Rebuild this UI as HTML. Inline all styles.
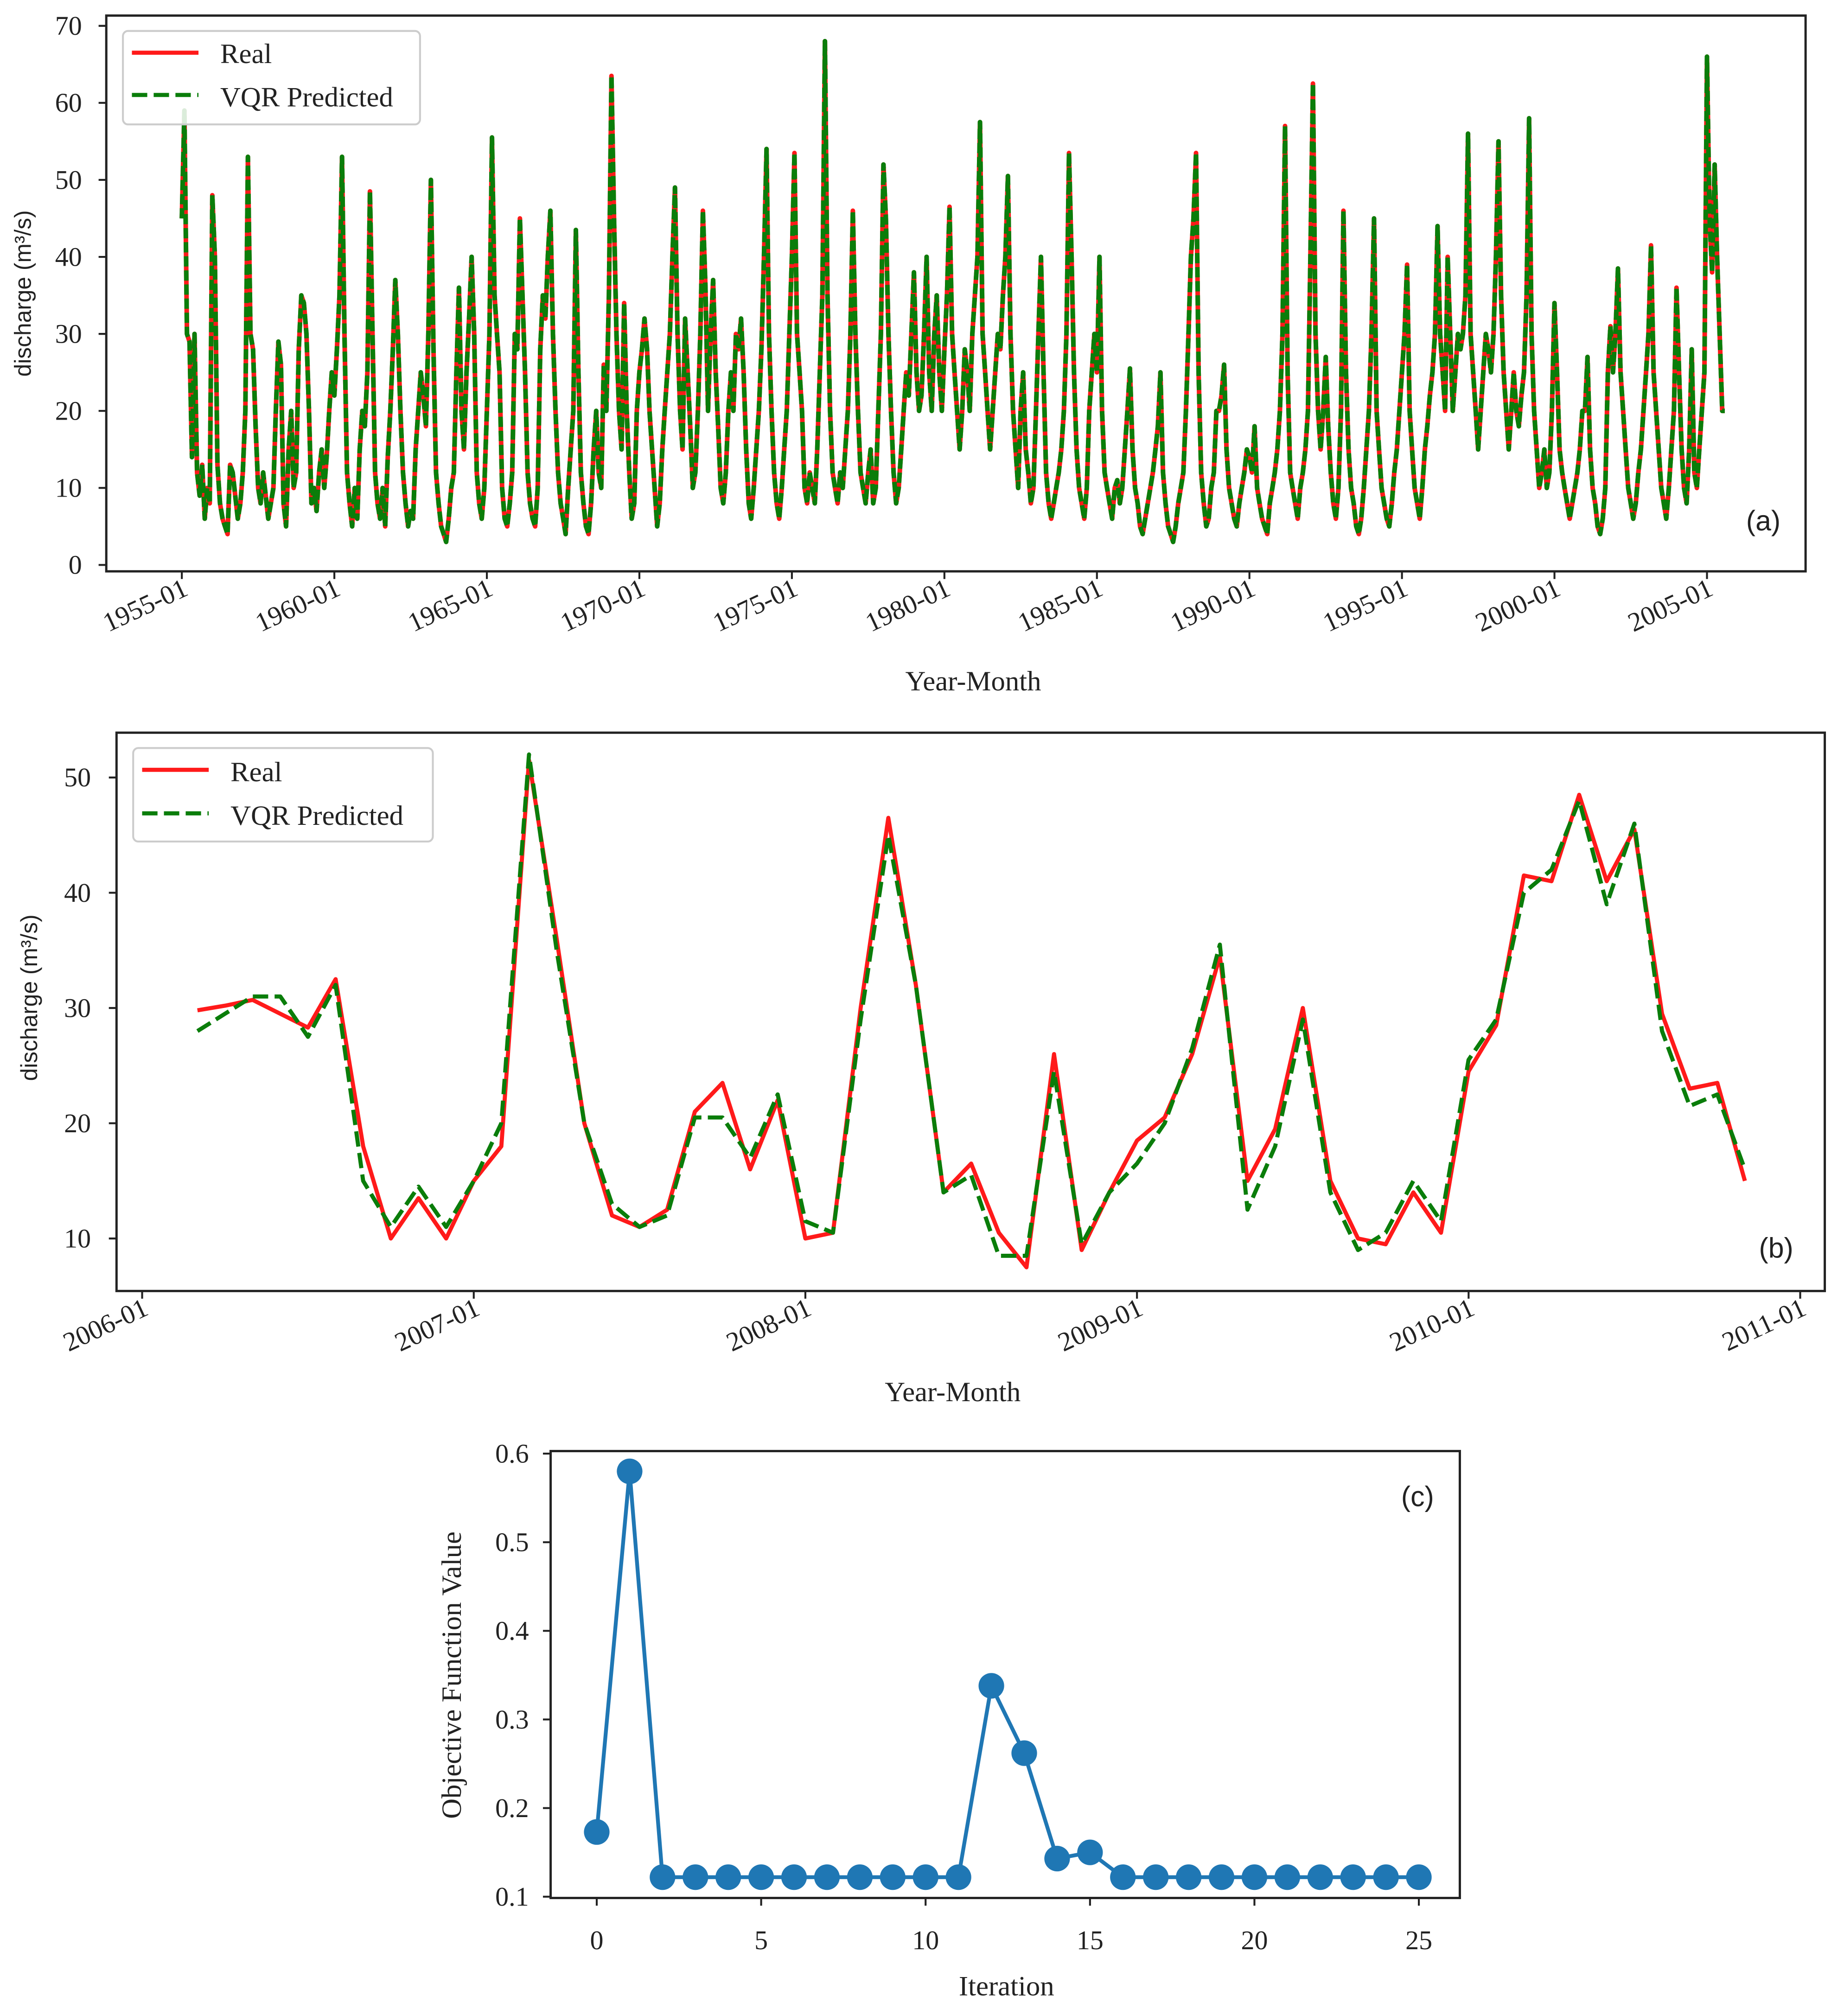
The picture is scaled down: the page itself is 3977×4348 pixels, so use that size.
<!DOCTYPE html>
<html><head><meta charset="utf-8"><style>
html,body{margin:0;padding:0;background:#fff;}
svg{display:block;}
text{font-family:"Liberation Serif",serif;fill:#222;}
.sans{font-family:"Liberation Sans",sans-serif;}
</style></head><body>
<svg id="fig" xmlns="http://www.w3.org/2000/svg" width="3977" height="4348" viewBox="0 0 1440 1574"></svg>
<script>
// ---- Panel (a) data: monthly discharge from 1955-01 ----
const startYearA = 1955;
const realA = [
45,59,30,29,14,30,12,9,13,6,10,8,
48,40,13,8,6,5,4,13,12,9,6,8,
12,20,53,30,28,18,10,8,12,9,6,8,
10,20,29,26,8,5,15,20,10,12,28,35,
34,30,20,8,10,7,12,15,10,14,20,25,
22,28,35,53,30,12,8,5,10,6,15,20,
18,25,48.5,30,12,8,6,10,5,14,20,28,
37,30,20,12,8,5,7,6,15,20,25,22,
18,30,50,28,12,8,5,4,3,6,10,12,
25,36,20,15,25,32,40,30,12,8,6,10,
20,30,55.5,35,30,25,10,6,5,8,12,30,
28,45,35,25,12,8,6,5,10,28,35,32,
40,46,30,20,12,8,6,4,10,15,20,43.5,
25,12,8,5,4,8,15,20,12,10,26,20,
35,63.5,45,30,20,15,34,20,12,6,8,20,
25,28,32,28,20,15,10,5,8,15,20,25,
30,40,49,30,20,15,32,25,18,10,12,20,
30,46,36,20,30,37,25,18,10,8,12,20,
25,20,30,28,32,25,15,8,6,10,15,20,
28,40,54,30,20,12,8,6,10,15,20,30,
40,53.5,30,25,20,10,8,12,10,8,15,25,
35,68,35,20,12,10,8,12,10,15,20,30,
46,30,20,12,10,8,12,15,8,10,20,30,
52,45,30,20,12,8,10,15,20,25,22,30,
38,25,20,22,30,40,25,20,30,35,25,20,
28,35,46.5,30,25,20,15,20,28,25,20,30,
35,40,57.5,30,25,20,15,20,25,30,28,35,
40,50.5,30,20,15,10,20,25,15,12,8,10,
20,30,40,25,12,8,6,8,10,12,15,20,
30,53.5,40,25,15,10,8,6,10,20,25,30,
25,40,20,12,10,8,6,10,11,8,10,15,
20,25.5,15,10,8,5,4,6,8,10,12,15,
18,25,12,8,5,4,3,5,8,10,12,20,
30,40,45,53.5,25,12,8,5,6,10,12,20,
20,22,26,15,10,8,6,5,8,10,12,15,
14,12,18,10,8,6,5,4,8,10,12,15,
20,30,57,25,12,10,8,6,10,12,15,20,
40,62.5,30,20,15,20,27,18,12,8,6,10,
20,46,25,15,10,8,5,4,6,10,15,20,
30,45,20,15,10,8,6,5,8,12,15,20,
25,30,39,20,15,10,8,6,10,15,18,22,
25,30,44,30,25,20,40,30,20,25,30,28,
30,35,56,30,25,20,15,20,25,30,28,25,
30,40,55,35,25,20,15,20,25,20,18,22,
25,35,58,30,20,15,10,12,15,10,12,20,
34,25,15,12,10,8,6,8,10,12,15,20,
20,27,15,10,8,5,4,6,10,25,31,25,
30,38.5,25,20,15,10,8,6,8,12,15,20,
25,30,41.5,25,20,15,10,8,6,10,15,20,
36,25,15,10,8,15,28,12,10,15,20,25,
66,45,38,52,40,30,20,20];
const predA = realA;
const ticksA = ["1955-01","1960-01","1965-01","1970-01","1975-01","1980-01","1985-01","1990-01","1995-01","2000-01","2005-01"];
const yTicksA = [0,10,20,30,40,50,60,70];

// ---- Panel (b) data: monthly from 2006-03 ----
const realB = [29.8,30.2,30.7,29.5,28.3,32.5,18,10,13.5,10,15,18,51.5,36,20,12,11,12.5,21,23.5,16,22,10,10.5,30,46.5,32,14,16.5,10.5,7.5,26,9,14,18.5,20.5,26,34.5,15,19.5,30,15,10,9.5,14,10.5,24.5,28.5,41.5,41,48.5,41,45.5,29.5,23,23.5,15];
const predB = [28,29.5,31,31,27.5,32,15,11,14.5,11,15,20,52,35,20,13,11,12,20.5,20.5,17,22.5,11.5,10.5,29,45,32,14,15.5,8.5,8.5,24.5,9.5,14,16.5,20,26.5,35.5,12.5,18,29,14,9,10.5,15,11.5,25.5,29,40,42,48,39,46,28,21.5,22.5,16];
const ticksB = ["2006-01","2007-01","2008-01","2009-01","2010-01","2011-01"];
const yTicksB = [10,20,30,40,50];

// ---- Panel (c) data ----
const iterC = [0,1,2,3,4,5,6,7,8,9,10,11,12,13,14,15,16,17,18,19,20,21,22,23,24,25];
const objC = [0.173,0.58,0.122,0.122,0.122,0.122,0.122,0.122,0.122,0.122,0.122,0.122,0.338,0.262,0.143,0.15,0.122,0.122,0.122,0.122,0.122,0.122,0.122,0.122,0.122,0.122];
const xTicksC = [0,5,10,15,20,25];
const yTicksC = [0.1,0.2,0.3,0.4,0.5,0.6];

const NS="http://www.w3.org/2000/svg";
const fig=document.getElementById('fig');
function mk(tag,attrs,parent){const e=document.createElementNS(NS,tag);for(const k in attrs)e.setAttribute(k,attrs[k]);(parent||fig).appendChild(e);return e;}
function txt(s,attrs,parent){const e=mk('text',attrs,parent);e.textContent=s;return e;}

// ===== Panel (a) =====
const gA=mk('g',{});


const xA=t=>142+(t-1955)*23.82;
const yA=v=>441-v*6.014;
mk('rect',{x:83,y:12,width:1327,height:434,fill:'none',stroke:'#222','stroke-width':1.8},gA);
yTicksA.forEach(v=>{mk('line',{x1:77,x2:83,y1:yA(v),y2:yA(v),stroke:'#222','stroke-width':1.5},gA);
 const t=txt(String(v),{x:64,y:yA(v)+7,'text-anchor':'end','font-size':21},gA);
 });
ticksA.forEach((s,i)=>{const x=xA(1955+5*i);mk('line',{x1:x,x2:x,y1:446,y2:452,stroke:'#222','stroke-width':1.5},gA);
 const t=txt(s,{x:x+6,y:464,'text-anchor':'end','font-size':21,transform:`rotate(-25 ${x+6} 464)`},gA);
 });
let t=txt('discharge (m³/s)',{x:24,y:229,'text-anchor':'middle','font-size':18,class:'sans',transform:'rotate(-90 24 229)',fill:'#444'},gA);

t=txt('Year-Month',{x:760,y:539,'text-anchor':'middle','font-size':22},gA);

t=txt('(a)',{x:1377,y:414,'text-anchor':'middle','font-size':22,class:'sans'},gA);

let ptsR=realA.map((v,i)=>xA(startYearA+i/12).toFixed(1)+','+yA(v).toFixed(1)).join(' ');
let ptsP=predA.map((v,i)=>xA(startYearA+i/12).toFixed(1)+','+yA(v).toFixed(1)).join(' ');
let l=mk('polyline',{points:ptsR,fill:'none',stroke:'#ff1a1a','stroke-width':3.6,'stroke-linejoin':'round'},gA);

l=mk('polyline',{points:ptsP,fill:'none',stroke:'#0a7d0a','stroke-width':3.6,'stroke-dasharray':'8 3','stroke-linejoin':'round'},gA);

let lg=mk('g',{},gA);
mk('rect',{x:96,y:24,width:232,height:73,rx:4,fill:'#fff','fill-opacity':0.85,stroke:'#ccc','stroke-width':1.5},lg);
mk('line',{x1:103,x2:155,y1:41,y2:41,stroke:'#ff1a1a','stroke-width':3.2},lg);
mk('line',{x1:103,x2:155,y1:74,y2:74,stroke:'#0a7d0a','stroke-width':3.2,'stroke-dasharray':'12 5'},lg);
txt('Real',{x:172,y:49,'font-size':22},lg);
txt('VQR Predicted',{x:172,y:83,'font-size':22},lg);

// ===== Panel (b) =====
const gB=mk('g',{});


const xB=m=>111+m*21.58; // months since 2006-01
const yB=v=>967-(v-10)*9.0;
mk('rect',{x:91,y:572,width:1334,height:436,fill:'none',stroke:'#222','stroke-width':1.8},gB);
yTicksB.forEach(v=>{mk('line',{x1:85,x2:91,y1:yB(v),y2:yB(v),stroke:'#222','stroke-width':1.5},gB);
 const t=txt(String(v),{x:71,y:yB(v)+7,'text-anchor':'end','font-size':21},gB);
 });
ticksB.forEach((s,i)=>{const x=xB(12*i);mk('line',{x1:x,x2:x,y1:1008,y2:1014,stroke:'#222','stroke-width':1.5},gB);
 const t=txt(s,{x:x+6,y:1026,'text-anchor':'end','font-size':21,transform:`rotate(-25 ${x+6} 1026)`},gB);
 });
t=txt('discharge (m³/s)',{x:29,y:779,'text-anchor':'middle','font-size':18,class:'sans',transform:'rotate(-90 29 779)',fill:'#444'},gB);

t=txt('Year-Month',{x:744,y:1094,'text-anchor':'middle','font-size':22},gB);

t=txt('(b)',{x:1387,y:982,'text-anchor':'middle','font-size':22,class:'sans'},gB);

ptsR=realB.map((v,i)=>xB(2+i).toFixed(1)+','+yB(v).toFixed(1)).join(' ');
ptsP=predB.map((v,i)=>xB(2+i).toFixed(1)+','+yB(v).toFixed(1)).join(' ');
l=mk('polyline',{points:ptsR,fill:'none',stroke:'#ff1a1a','stroke-width':3.2,'stroke-linejoin':'round'},gB);

l=mk('polyline',{points:ptsP,fill:'none',stroke:'#0a7d0a','stroke-width':3.2,'stroke-dasharray':'12 5','stroke-linejoin':'round'},gB);

lg=mk('g',{},gB);
mk('rect',{x:104,y:584,width:234,height:73,rx:4,fill:'#fff','fill-opacity':0.85,stroke:'#ccc','stroke-width':1.5},lg);
mk('line',{x1:111,x2:163,y1:601,y2:601,stroke:'#ff1a1a','stroke-width':3.2},lg);
mk('line',{x1:111,x2:163,y1:635,y2:635,stroke:'#0a7d0a','stroke-width':3.2,'stroke-dasharray':'12 5'},lg);
txt('Real',{x:180,y:610,'font-size':22},lg);
txt('VQR Predicted',{x:180,y:644,'font-size':22},lg);

// ===== Panel (c) =====
const gC=mk('g',{});


const xC=v=>466+v*25.68;
const yC=v=>1481-(v-0.1)*692;
mk('rect',{x:430,y:1133,width:710,height:349,fill:'none',stroke:'#222','stroke-width':1.8},gC);
yTicksC.forEach(v=>{mk('line',{x1:424,x2:430,y1:yC(v),y2:yC(v),stroke:'#222','stroke-width':1.5},gC);
 const t=txt(v.toFixed(1),{x:413,y:yC(v)+7,'text-anchor':'end','font-size':21},gC);
 });
xTicksC.forEach(v=>{mk('line',{x1:xC(v),x2:xC(v),y1:1482,y2:1488,stroke:'#222','stroke-width':1.5},gC);
 const t=txt(String(v),{x:xC(v),y:1522,'text-anchor':'middle','font-size':21},gC);
 });
t=txt('Objective Function Value',{x:360,y:1308,'text-anchor':'middle','font-size':22,transform:'rotate(-90 360 1308)'},gC);

t=txt('Iteration',{x:786,y:1558,'text-anchor':'middle','font-size':22},gC);

t=txt('(c)',{x:1107,y:1176,'text-anchor':'middle','font-size':22,class:'sans'},gC);

l=mk('polyline',{points:objC.map((v,i)=>xC(iterC[i])+','+yC(v)).join(' '),fill:'none',stroke:'#1f77b4','stroke-width':3},gC);

objC.forEach((v,i)=>{const c=mk('circle',{cx:xC(iterC[i]),cy:yC(v),r:10,fill:'#1f77b4'},gC);
 
 });
</script>
</body></html>
